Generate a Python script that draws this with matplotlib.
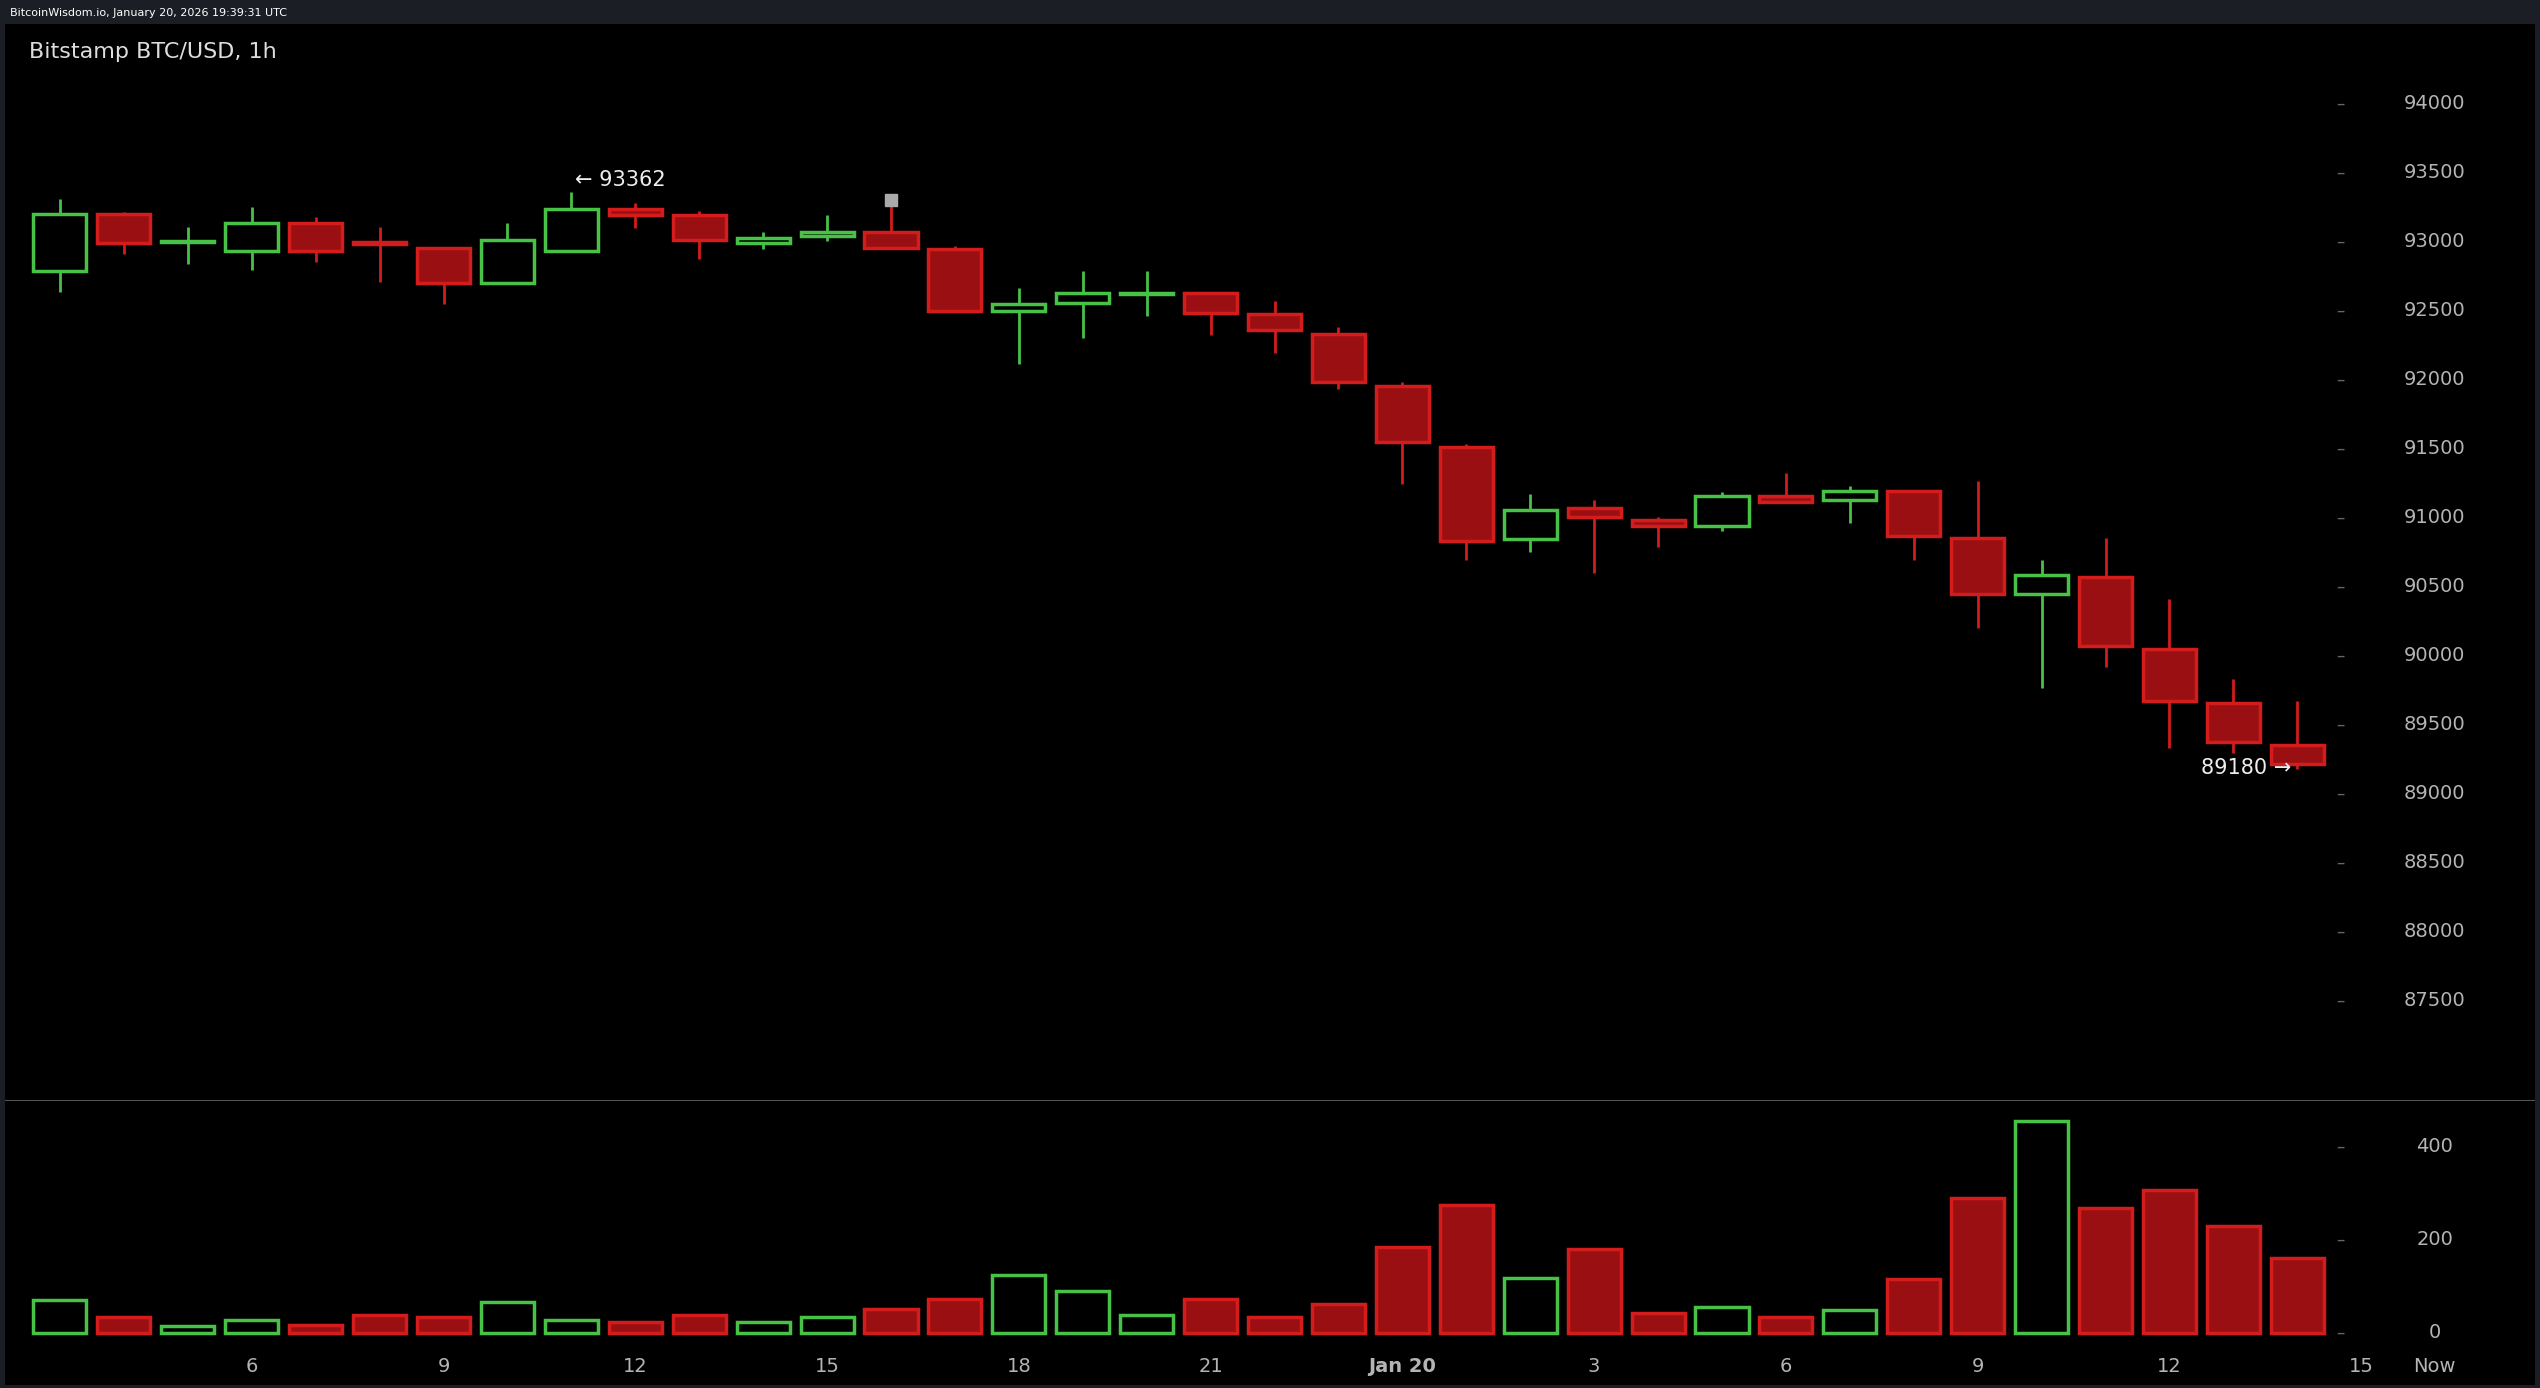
import matplotlib
matplotlib.use('Agg')
import matplotlib.pyplot as plt
import matplotlib.transforms as mtransforms
import numpy as np

# hourly candles, Jan 19 03:00 .. Jan 20 14:00
opens = [92791, 93202, 92995, 92932, 93132, 93000, 92956, 92698, 92932, 93237, 93190, 92991,
         93038, 93073, 92944, 92498, 92557, 92620, 92627, 92475, 92334, 91958, 91513, 90844,
         91067, 90985, 90938, 91160, 91125, 91196, 90856, 90445, 90574, 90046, 89659, 89354]
closes = [93202, 92991, 93005, 93132, 92932, 92985, 92698, 93014, 93237, 93190, 93014, 93026,
          93073, 92956, 92498, 92545, 92627, 92630, 92486, 92357, 91982, 91548, 90832, 91055,
          91008, 90938, 91160, 91114, 91196, 90867, 90445, 90586, 90069, 89670, 89377, 89213]
highs = [93308, 93214, 93108, 93249, 93179, 93108, 92956, 93132, 93362, 93280, 93225, 93073,
         93190, 93300, 92967, 92662, 92791, 92791, 92639, 92569, 92381, 91982, 91536, 91172,
         91125, 91008, 91184, 91325, 91231, 91196, 91266, 90691, 90856, 90410, 89835, 89670]
lows = [92639, 92909, 92838, 92792, 92850, 92709, 92545, 92698, 92991, 93096, 92874, 92944,
        93003, 92956, 92498, 92111, 92299, 92463, 92322, 92193, 91935, 91243, 90691, 90750,
        90597, 90785, 90903, 91114, 90961, 90691, 90198, 89764, 89917, 89330, 89295, 89180]
volumes = [70, 35, 14, 28, 17, 38, 35, 66, 28, 24, 38, 24, 35, 52, 73, 125, 90, 38, 73, 35,
           63, 184, 275, 118, 181, 42, 56, 35, 49, 115, 289, 456, 268, 306, 230, 160]
price_ticks = [87500, 88000, 88500, 89000, 89500, 90000, 90500, 91000, 91500, 92000,
               92500, 93000, 93500, 94000]
vol_ticks = [0, 200, 400]
hour_ticks = [3, 6, 9, 12, 15, 18, 21, 24, 27, 30, 33, 36]
hour_labels = ['6', '9', '12', '15', '18', '21', 'Jan 20', '3', '6', '9', '12', '15']

GREEN = '#47c247'
RED_EDGE = '#d41c1c'
RED_FILL = '#9a1012'
GREY = '#b4b4b4'

W, H = 1568, 857
fig = plt.figure(figsize=(25.4, 13.88), dpi=100, facecolor='#1b1e25')

def rect(x0, y0, x1, y1):
    return [x0 / W, 1 - y1 / H, (x1 - x0) / W, (y1 - y0) / H]

bg = fig.add_axes(rect(3, 15, 1565, 855))
bg.set_facecolor('black')
bg.set_xticks([]); bg.set_yticks([])
for s in bg.spines.values():
    s.set_visible(False)

ax1 = fig.add_axes(rect(3, 45, 1565, 680), facecolor='none')
ax2 = fig.add_axes(rect(3, 681, 1565, 833), facecolor='none', sharex=ax1)
for a in (ax1, ax2):
    for s in a.spines.values():
        s.set_visible(False)
    a.set_xticks([]); a.set_yticks([])

x = np.arange(len(opens))
ax1.set_xlim(-0.862, 38.72)
ax1.set_ylim(86772, 94223)
ax2.set_ylim(-35, 494)

o = np.array(opens); c = np.array(closes)
up = c >= o
bw = 0.83
for i in x:
    col = GREEN if up[i] else RED_EDGE
    ax1.vlines(i, lows[i], highs[i], color=col, lw=2, zorder=1)
    bottom = min(o[i], c[i])
    h = max(abs(c[i] - o[i]), 4)
    ax1.bar(i, h, bottom=bottom, width=bw, facecolor='black' if up[i] else RED_FILL,
            edgecolor=col, linewidth=2.5, zorder=2)
    ax2.bar(i, volumes[i], width=bw, facecolor='black' if up[i] else RED_FILL,
            edgecolor=GREEN if up[i] else RED_EDGE, linewidth=2.5)

# marker above the 16:00 candle
ax1.plot(13, highs[13], marker='s', color='#aaaaaa', markersize=8, zorder=3)

# price scale
for p in price_ticks:
    ax1.text(35.68, p, '–', color='#666666', fontsize=12, ha='center', va='center')
    ax1.text(37.15, p, str(p), color=GREY, fontsize=14, ha='center', va='center')
for v in vol_ticks:
    ax2.text(35.68, v, '–', color='#666666', fontsize=12, ha='center', va='center')
    ax2.text(37.15, v, str(v), color=GREY, fontsize=14, ha='center', va='center')

ax1.text(8.05, 93378, '← 93362', color='#eeeeee', fontsize=15, ha='left', va='bottom')
ax1.text(34.9, 89190, '89180 →', color='#eeeeee', fontsize=15, ha='right', va='center')

# separator
ax1.axhline(86772, color='#555555', lw=1.5)

# time axis labels
tr = mtransforms.blended_transform_factory(ax2.transData, fig.transFigure)
for t, lab in zip(hour_ticks, hour_labels):
    ax2.text(t, 1 - 844 / H, lab, transform=tr, color=GREY, fontsize=14,
             ha='center', va='center', fontweight='bold' if lab == 'Jan 20' else 'normal')
ax2.text(37.15, 1 - 844 / H, 'Now', transform=tr, color=GREY, fontsize=14, ha='center', va='center')

fig.text(18 / W, 1 - 32 / H, 'Bitstamp BTC/USD, 1h', color='#dddddd', fontsize=16, va='center')
fig.text(6 / W, 1 - 8 / H, 'BitcoinWisdom.io, January 20, 2026 19:39:31 UTC', color='white',
         fontsize=8, va='center')

fig.savefig('out.png', dpi=100, facecolor=fig.get_facecolor())
